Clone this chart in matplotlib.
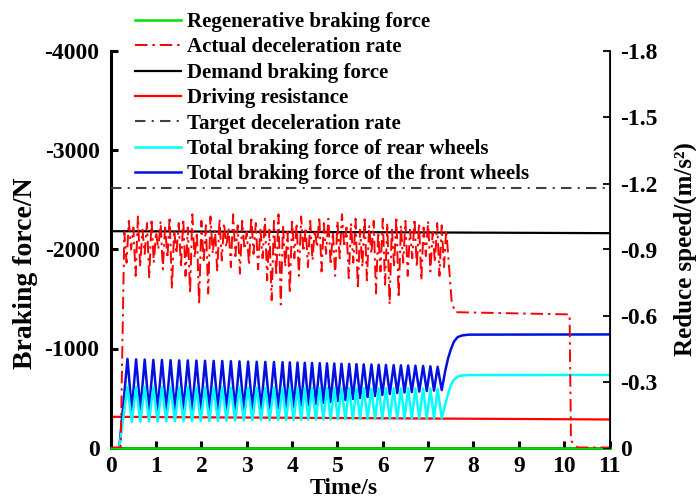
import numpy as np
import matplotlib
matplotlib.use("Agg")
import matplotlib.pyplot as plt

plt.rcParams['font.family'] = ['Liberation Serif', 'DejaVu Serif']
plt.rcParams['font.weight'] = 'bold'
plt.rcParams['axes.labelweight'] = 'bold'
plt.rcParams['axes.unicode_minus'] = False
plt.rcParams['lines.scale_dashes'] = False

# demand braking force and driving resistance (N)
demand_t = [0.0, 11.0]
demand_f = [-2185, -2165]
resist_t = [0.0, 0.02, 0.03, 11.0]
resist_f = [0, 0, -310, -283]
regen_t = [0.0, 11.0]
regen_f = [0, 0]

# ABS cycling of front / rear braking force: peak and trough instants (s)
t_peak = [0.37, 0.56, 0.75, 0.94, 1.13, 1.32, 1.51, 1.70, 1.89, 2.08,
          2.27, 2.46, 2.65, 2.84, 3.03, 3.22, 3.41, 3.60, 3.79, 3.95,
          4.12, 4.28, 4.44, 4.61, 4.77, 4.93, 5.09, 5.26, 5.42, 5.58,
          5.75, 5.91, 6.07, 6.24, 6.40, 6.56, 6.72, 6.89, 7.05, 7.21]
t_trough = [0.465, 0.655, 0.845, 1.035, 1.225, 1.415, 1.605, 1.795, 1.985, 2.175,
            2.365, 2.555, 2.745, 2.935, 3.125, 3.315, 3.505, 3.695, 3.87, 4.035,
            4.20, 4.36, 4.525, 4.69, 4.85, 5.01, 5.175, 5.34, 5.50, 5.665,
            5.83, 5.99, 6.155, 6.32, 6.48, 6.64, 6.805, 6.97, 7.13, 7.30]
front_peak = [-895, -890, -888, -885, -884, -882, -880, -880, -878, -876,
              -875, -874, -872, -870, -868, -866, -865, -864, -862, -860,
              -858, -856, -854, -852, -850, -848, -846, -844, -842, -840,
              -838, -836, -834, -832, -830, -828, -826, -824, -820, -815]
front_trough = [-380, -385, -380, -382, -385, -383, -386, -384, -388, -385,
                -387, -390, -388, -392, -390, -394, -396, -398, -400, -410,
                -420, -430, -440, -450, -460, -470, -480, -490, -500, -510,
                -520, -530, -540, -550, -555, -560, -565, -570, -575, -580]
rear_peak = [-612, -610, -612, -608, -610, -608, -607, -609, -606, -608,
             -605, -607, -604, -606, -603, -605, -602, -604, -601, -603,
             -600, -602, -600, -601, -599, -600, -598, -600, -598, -599,
             -597, -598, -596, -598, -596, -597, -595, -596, -595, -594]
rear_trough = [-258, -260, -262, -262, -264, -265, -266, -267, -268, -268,
               -270, -271, -272, -273, -274, -275, -276, -277, -278, -279,
               -280, -281, -282, -283, -284, -285, -286, -286, -287, -288,
               -289, -289, -290, -291, -291, -292, -293, -293, -294, -295]
# settling after ABS ends
settle_t = [7.38, 7.44, 7.50, 7.57, 7.65, 7.75, 7.90, 11.0]
front_settle = [-780, -900, -990, -1070, -1115, -1132, -1140, -1142]
rear_settle = [-440, -540, -630, -685, -715, -728, -732, -733]
start_t = 0.19

# actual deceleration (m/s^2), sampled every 0.05 s from 0.30 to 7.40 s
dec_hi = [-0.98, -1.03, -1.00, -1.05, -0.99, -1.02, -1.04, -0.98, -1.03, -1.01,
          -1.05, -0.99, -1.02, -1.04, -1.00, -1.06, -0.98, -1.03, -1.01, -1.05,
          -0.99, -1.04, -1.02, -1.00, -1.06, -1.01, -1.03, -0.98, -1.05, -1.02,
          -1.00, -1.04, -0.99, -1.03, -1.06, -1.01, -0.98, -1.04, -1.02, -1.05,
          -1.00, -1.03, -0.99, -1.05, -1.02, -1.04, -0.98, -1.03, -1.06, -1.00,
          -1.02, -1.04, -0.99, -1.05, -1.01, -1.03, -0.98, -1.04, -1.02, -1.00,
          -1.05, -1.01, -1.03, -0.99, -1.04, -1.02, -1.00, -1.03, -0.98, -1.02,
          -1.01, -0.99]
dec_lo = [-0.84, -0.90, -0.78, -0.82, -0.88, -0.77, -0.84, -0.90, -0.81, -0.86,
          -0.72, -0.88, -0.82, -0.78, -0.70, -0.86, -0.65, -0.84, -0.70, -0.88,
          -0.80, -0.85, -0.91, -0.82, -0.87, -0.79, -0.90, -0.83, -0.88, -0.81,
          -0.86, -0.76, -0.67, -0.78, -0.65, -0.82, -0.70, -0.86, -0.78, -0.89,
          -0.82, -0.85, -0.91, -0.80, -0.88, -0.83, -0.78, -0.86, -0.91, -0.77,
          -0.84, -0.72, -0.82, -0.76, -0.88, -0.70, -0.80, -0.74, -0.65, -0.82,
          -0.68, -0.84, -0.78, -0.86, -0.82, -0.76, -0.87, -0.80, -0.84, -0.78,
          -0.82]
dec_lead_t = [0.0, 0.22]
dec_lead = [0.0, 0.0]
dec_tail_t = [7.47, 7.52, 7.60, 10.12, 10.15, 10.30, 11.0]
dec_tail = [-0.80, -0.66, -0.615, -0.605, -0.03, 0.0, 0.0]
target_t = [0.0, 11.0]
target_dec = [-1.18, -1.18]

# assemble series
osc_t = np.column_stack((t_peak, t_trough)).ravel()
front_t = np.concatenate(([start_t], osc_t, settle_t))
front_f = np.concatenate(([0], np.column_stack((front_peak, front_trough)).ravel(), front_settle))
rear_f = np.concatenate(([0], np.column_stack((rear_peak, rear_trough)).ravel(), rear_settle))

dec_mid = np.empty(len(dec_hi) + len(dec_lo))
dec_mid[0::2] = dec_hi
dec_mid[1::2] = dec_lo
dec_mid_t = np.linspace(0.30, 7.40, len(dec_mid))
dec_t = np.concatenate((dec_lead_t, dec_mid_t, dec_tail_t))
dec = np.concatenate((dec_lead, dec_mid, dec_tail))

fig = plt.figure(figsize=(6.96, 5.01), dpi=100)
ax = fig.add_axes([110.7 / 696, 1 - 447.5 / 501, 498.8 / 696, 396 / 501])
ax2 = ax.twinx()

l_regen, = ax.plot(regen_t, regen_f, color='#00e000', lw=1.8, zorder=3, clip_on=False)
l_demand, = ax.plot(demand_t, demand_f, color='black', lw=1.6)
l_resist, = ax.plot(resist_t, resist_f, color='red', lw=1.6)
l_front, = ax.plot(front_t, front_f, color='#0010e0', lw=1.8)
l_rear, = ax.plot(front_t, rear_f, color='cyan', lw=1.8)

l_target, = ax2.plot(target_t, target_dec, color='#404040', lw=1.5, dashes=(7.5, 4.5, 1.5, 4.5))
l_dec, = ax2.plot(dec_t, dec, color='red', lw=1.4, dashes=(9, 3.5, 1.8, 3.5))

ax.set_xlim(0, 11)
ax.set_ylim(0, -4000)
ax2.set_ylim(0, -1.8)
ax.set_xticks(range(0, 12))
ax.set_yticks([0, -1000, -2000, -3000, -4000])
ax.set_yticklabels(['0', '-1000', '-2000', '-3000', '-4000'])
ax2.set_yticks([0, -0.3, -0.6, -0.9, -1.2, -1.5, -1.8])
ax2.set_yticklabels(['0', '-0.3', '-0.6', '-0.9', '-1.2', '-1.5', '-1.8'])

for a in (ax, ax2):
    a.spines['top'].set_visible(False)
ax.spines['left'].set_linewidth(2.2)
ax.spines['bottom'].set_linewidth(1.8)
ax2.spines['right'].set_linewidth(1.3)
ax2.spines['left'].set_visible(False)
ax2.spines['bottom'].set_visible(False)

ax.tick_params(axis='both', direction='in', length=5, width=2.2, labelsize=17)
ax.tick_params(axis='x', pad=6)
ax.tick_params(axis='y', right=False, pad=8)
ax2.tick_params(axis='y', direction='in', length=5, width=1.3, labelsize=17, pad=8)

ax.set_xlabel('Time/s', fontsize=17)
ax.xaxis.set_label_coords(0.468, -0.078)
ax.set_ylabel('Braking force/N', fontsize=20)
ax.yaxis.set_label_coords(-0.145, 0.44)
ax2.set_ylabel('Reduce speed/(m/s²)', fontsize=18)
ax2.yaxis.set_label_coords(1.128, 0.50)

handles = [l_regen, l_dec, l_demand, l_resist, l_target, l_rear, l_front]
labels = ['Regenerative braking force', 'Actual deceleration rate',
          'Demand braking force', 'Driving resistance',
          'Target deceleration rate', 'Total braking force of rear wheels',
          'Total braking force of the front wheels']
fig.legend(handles, labels, loc='upper left', bbox_to_anchor=(135 / 696, 1 - 12 / 501),
           frameon=False, fontsize=15, handlelength=2.2, handletextpad=0.3,
           labelspacing=0.26, borderpad=0, borderaxespad=0)

fig.savefig('out.png', dpi=100)
